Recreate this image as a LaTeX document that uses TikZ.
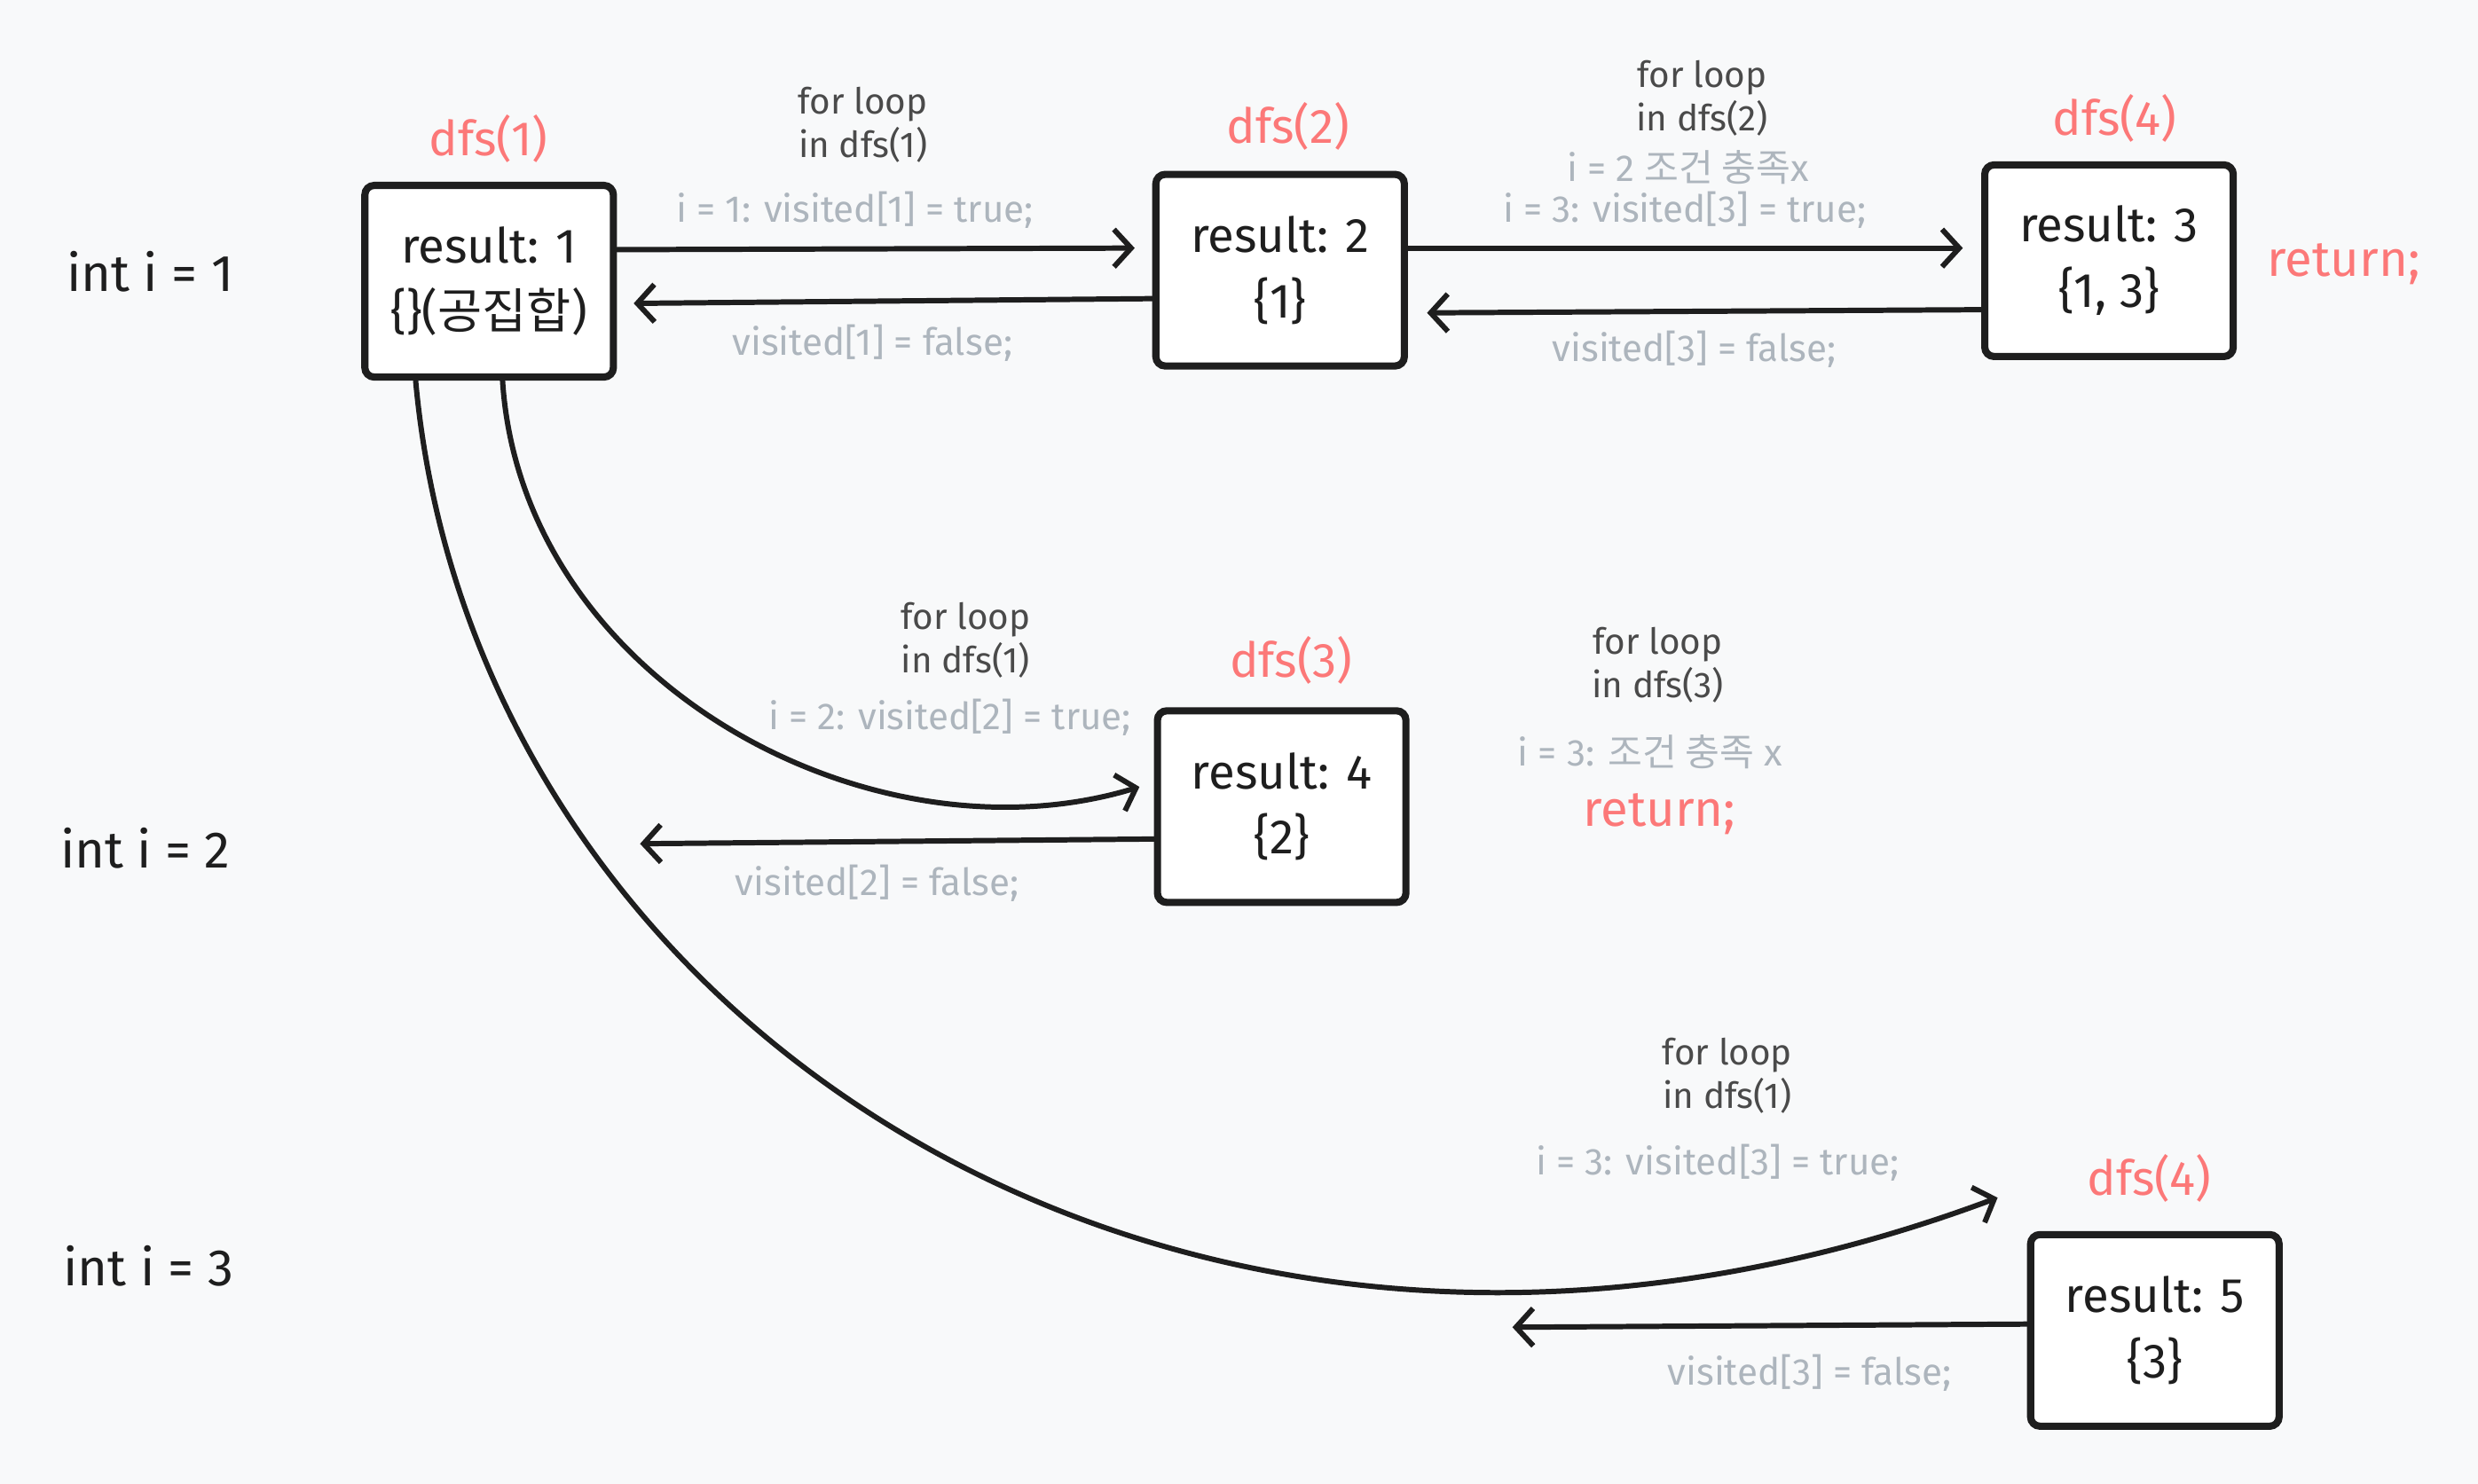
\documentclass[tikz,border=0pt]{standalone}
\usepackage{fontspec}
\setmainfont{Fira Sans}
\newfontfamily\kr{Noto Sans CJK KR}
\usetikzlibrary{arrows.meta}
\definecolor{bg}{HTML}{F8F9FA}
\definecolor{ink}{HTML}{1E1E1E}
\definecolor{redlab}{RGB}{252,120,120}
\definecolor{graytxt}{HTML}{ADB5BD}
\definecolor{darklab}{HTML}{4A4A4A}
\tikzset{
  box/.style={draw=ink, line width=2.3pt, rounded corners=3pt, fill=white,
    minimum width=2.80cm, minimum height=2.16cm, align=center,
    font=\fontsize{15.5}{21}\selectfont, text=ink, inner sep=0pt},
  arr/.style={draw=ink, line width=1.7pt, line cap=round,
    -{Straight Barb[length=5.5pt,width=12pt,line width=1.7pt]}},
  redl/.style={text=redlab, font=\fontsize{15.5}{18}\selectfont, inner sep=0pt},
  grayl/.style={text=graytxt, font=\fontsize{12}{14}\selectfont, inner sep=0pt},
  darkl/.style={text=darklab, font=\fontsize{11.5}{13}\selectfont, inner sep=0pt},
  intl/.style={text=ink, font=\fontsize{16.5}{18}\selectfont, inner sep=0pt},
}
\begin{document}
\begin{tikzpicture}[x=0.017813cm,y=-0.017813cm]
\fill[bg] (0,0) rectangle (1568,939);
\useasboundingbox (0,0) rectangle (1568,939);

% boxes
\node[box] (b1) at (309.5,178) {result: 1\\\{\}({\kr 공집합})};
\node[box] (b2) at (810,171) {result: 2\\\{1\}};
\node[box] (b4) at (1334.5,165) {result: 3\\\{1, 3\}};
\node[box] (b3) at (811,510.5) {result: 4\\\{2\}};
\node[box] (b5) at (1363.5,842) {result: 5\\\{3\}};

% red titles
\node[redl] (t1) at (309,88) {dfs(1)};
\node[redl] (t2) at (815,80) {dfs(2)};
\node[redl] (t4) at (1338,75) {dfs(4)};
\node[redl] (t3) at (817,418) {dfs(3)};
\node[redl] (t5) at (1360,746) {dfs(4)};
\node[redl,font=\fontsize{16}{18}\selectfont] (r1) at (1483,167) {return;};
\node[redl,font=\fontsize{16}{18}\selectfont] (r2) at (1050,515) {return;};

% left labels
\node[intl] (i1) at (95,172) {int i = 1};
\node[intl] (i2) at (92,537) {int i = 2};
\node[intl] (i3) at (94,801) {int i = 3};

% loop labels
\node[darkl,align=center] (f1) at (546,79) {for loop\\[1pt]in dfs(1)};
\node[darkl,align=center] (f2) at (1077,62) {for loop\\[1pt]in dfs(2)};
\node[darkl,align=center] (f3) at (611,405) {for loop\\[1pt]in dfs(1)};
\node[darkl,align=center] (f4) at (1049,421) {for loop\\[1pt]in dfs(3)};
\node[darkl,align=center] (f5) at (1093,681) {for loop\\[1pt]in dfs(1)};

% gray labels
\node[grayl] (g1) at (541,133) {i = 1: visited[1] = true;};
\node[grayl] (g2) at (552,217) {visited[1] = false;};
\node[grayl] (g3) at (1068,106) {i = 2 {\kr 조건 충족}x};
\node[grayl] (g4) at (1066,133) {i = 3: visited[3] = true;};
\node[grayl] (g5) at (1072,221) {visited[3] = false;};
\node[grayl] (g6) at (601,454) {i = 2: visited[2] = true;};
\node[grayl] (g7) at (555,559) {visited[2] = false;};
\node[grayl] (g8) at (1044,476) {i = 3: {\kr 조건 충족} x};
\node[grayl] (g9) at (1087,736) {i = 3: visited[3] = true;};
\node[grayl] (g10) at (1145,869) {visited[3] = false;};

% connector coordinates
\coordinate (s1) at (0,158);  \coordinate (e1) at (718,157);
\coordinate (s2) at (0,189);  \coordinate (e2) at (401,192);
\coordinate (s3) at (0,157);  \coordinate (e3) at (1242,157);
\coordinate (s4) at (0,196);  \coordinate (e4) at (903,198);
\coordinate (s5) at (318,0);  \coordinate (e5) at (721,498);
\coordinate (s6) at (0,531);  \coordinate (e6) at (405,534);
\coordinate (s7) at (263,0);  \coordinate (e7) at (1264,758);
\coordinate (s8) at (0,838);  \coordinate (e8) at (957,840);

\draw[arr] (b1.east |- s1) -- (e1);
\draw[arr] (b2.west |- s2) -- (e2);
\draw[arr] (b2.east |- s3) -- (e3);
\draw[arr] (b4.west |- s4) -- (e4);
\draw[arr] (b1.south -| s5) .. controls (330,430) and (550,550) .. (e5);
\draw[arr] (b3.west |- s6) -- (e6);
\draw[arr] (b1.south -| s7) .. controls (300,650) and (750,950) .. (e7);
\draw[arr] (b5.west |- s8) -- (e8);
\end{tikzpicture}
\end{document}
